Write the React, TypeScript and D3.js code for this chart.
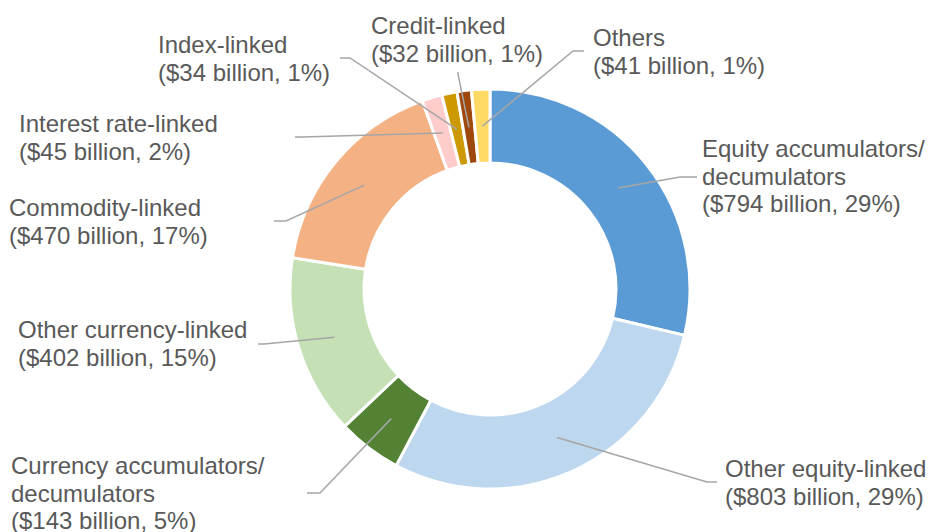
import { arc, pie, PieArcDatum } from "d3";

const categories = [
  "Equity accumulators/decumulators",
  "Other equity-linked",
  "Currency accumulators/decumulators",
  "Other currency-linked",
  "Commodity-linked",
  "Interest rate-linked",
  "Index-linked",
  "Credit-linked",
  "Others",
];
const values = [794, 803, 143, 402, 470, 45, 34, 32, 41];
const percents = [29, 29, 5, 15, 17, 2, 1, 1, 1];
const labelLines = [
  ["Equity accumulators/", "decumulators"],
  ["Other equity-linked"],
  ["Currency accumulators/", "decumulators"],
  ["Other currency-linked"],
  ["Commodity-linked"],
  ["Interest rate-linked"],
  ["Index-linked"],
  ["Credit-linked"],
  ["Others"],
];
const colors = [
  "#5B9BD5",
  "#BDD7EE",
  "#548235",
  "#C5E0B4",
  "#F4B183",
  "#FFCCCC",
  "#CC9900",
  "#9E480E",
  "#FFD966",
];

// label layout: text left x, first baseline, leader elbow and end
const layout = [
  { tx: 702, ty: 157, elbow: [680, 177], end: [697, 177] },
  { tx: 725, ty: 477, elbow: [707, 482], end: [717, 482] },
  { tx: 11, ty: 474, elbow: [320, 493], end: [307, 493] },
  { tx: 18, ty: 338, elbow: [264, 344], end: [258, 344] },
  { tx: 9, ty: 216, elbow: [286, 221], end: [274, 221] },
  { tx: 19, ty: 132, elbow: [302, 137], end: [295, 137] },
  { tx: 158, ty: 53, elbow: [350, 58], end: [340, 58] },
  { tx: 371, ty: 34, elbow: [458, 74], end: [458, 72] },
  { tx: 593, ty: 46, elbow: [573, 51], end: [584, 51] },
];

const W = 929;
const H = 532;
const cx = 490;
const cy = 289;
const outerR = 200;
const innerR = 126;
const lineH = 27.5;

type Item = { name: string; value: number; idx: number };

export default function App() {
  const data: Item[] = categories.map((name, idx) => ({
    name,
    value: values[idx],
    idx,
  }));
  const arcs = pie<Item>()
    .value((d) => d.value)
    .sort(null)(data);
  const arcGen = arc<PieArcDatum<Item>>()
    .innerRadius(innerR)
    .outerRadius(outerR);

  return (
    <svg
      width={W}
      height={H}
      style={{ position: "absolute", left: 0, top: 0, display: "block" }}
      fontFamily="'Liberation Sans', Arial, sans-serif"
    >
      <rect width={W} height={H} fill="#ffffff" />
      <g transform={`translate(${cx}, ${cy})`}>
        {arcs.map((a) => (
          <path
            key={a.data.name}
            d={arcGen(a) || ""}
            fill={colors[a.data.idx]}
            stroke="#ffffff"
            strokeWidth={3}
          />
        ))}
      </g>
      {arcs.map((a) => {
        const i = a.data.idx;
        const [mx, my] = arcGen.centroid(a);
        const l = layout[i];
        const pts = [
          [cx + mx, cy + my],
          l.elbow,
          l.end,
        ];
        return (
          <polyline
            key={`line-${i}`}
            points={pts.map((p) => p.join(",")).join(" ")}
            fill="none"
            stroke="#A6A6A6"
            strokeWidth={1.5}
          />
        );
      })}
      {arcs.map((a) => {
        const i = a.data.idx;
        const l = layout[i];
        const lines = [
          ...labelLines[i],
          `($${values[i]} billion, ${percents[i]}%)`,
        ];
        return (
          <text
            key={`label-${i}`}
            x={l.tx}
            y={l.ty}
            fontSize={24}
            fill="#595959"
          >
            {lines.map((t, k) => (
              <tspan key={k} x={l.tx} y={l.ty + k * lineH}>
                {t}
              </tspan>
            ))}
          </text>
        );
      })}
    </svg>
  );
}
